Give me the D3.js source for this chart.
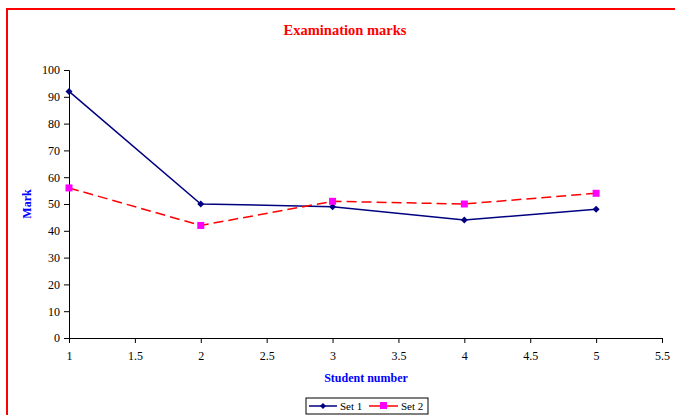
<!DOCTYPE html>
<html><head><meta charset="utf-8">
<script src="https://cdn.jsdelivr.net/npm/d3@7"></script>
<style>body{margin:0;background:#fff}svg{display:block}svg text{font-family:"Liberation Serif","Times New Roman",Times,serif}</style>
</head><body>
<script>
const students = [1, 2, 3, 4, 5];
const set1 = [92, 50, 49, 44, 48];
const set2 = [56, 42, 51, 50, 54];
const xTicks = [1, 1.5, 2, 2.5, 3, 3.5, 4, 4.5, 5, 5.5];
const yTicks = [0, 10, 20, 30, 40, 50, 60, 70, 80, 90, 100];

const W = 675, H = 415;
const svg = d3.select("body").append("svg").attr("width", W).attr("height", H);

svg.append("rect").attr("x", 7).attr("y", 9).attr("width", 720).attr("height", 430)
  .attr("fill", "none").attr("stroke", "#ff0000").attr("stroke-width", 2);

const x = d3.scaleLinear().domain([1, 5.5]).range([69, 662]);
const y = d3.scaleLinear().domain([0, 100]).range([338, 70]);

const xAxis = svg.append("g").attr("transform", "translate(0,338)")
  .call(d3.axisBottom(x).tickValues(xTicks).tickSize(5).tickPadding(8).tickFormat(d => String(d)));
const yAxis = svg.append("g").attr("transform", "translate(69,0)")
  .call(d3.axisLeft(y).tickValues(yTicks).tickSize(5).tickPadding(4).tickFormat(d => String(d)));
[xAxis, yAxis].forEach(g => {
  g.attr("font-family", null);
  g.select(".domain").attr("stroke", "#000").attr("stroke-width", 1);
  g.selectAll(".tick line").attr("stroke", "#000");
  g.selectAll(".tick text").attr("font-size", 12).attr("fill", "#000");
});

svg.append("text").attr("x", 345).attr("y", 35).attr("text-anchor", "middle")
  .attr("font-weight", "bold").attr("font-size", 14.5)
  .attr("fill", "#ff0000").text("Examination marks");
svg.append("text").attr("x", 366).attr("y", 382).attr("text-anchor", "middle")
  .attr("font-weight", "bold").attr("font-size", 12)
  .attr("fill", "#0000ff").text("Student number");
svg.append("text").attr("transform", "translate(31,204) rotate(-90)").attr("text-anchor", "middle")
  .attr("font-weight", "bold").attr("font-size", 12)
  .attr("fill", "#0000ff").text("Mark");

const line = d3.line().x(d => x(d[0])).y(d => y(d[1]));
const d1 = students.map((s, i) => [s, set1[i]]);
const d2 = students.map((s, i) => [s, set2[i]]);

svg.append("path").datum(d1).attr("d", line).attr("fill", "none")
  .attr("stroke", "#000080").attr("stroke-width", 1.5);
svg.append("path").datum(d2).attr("d", line).attr("fill", "none")
  .attr("stroke", "#ff0000").attr("stroke-width", 1.5).attr("stroke-dasharray", "10,5");

const diamond = (cx, cy, r) => `M${cx},${cy - r}L${cx + r},${cy}L${cx},${cy + r}L${cx - r},${cy}Z`;
svg.selectAll(".m1").data(d1).enter().append("path")
  .attr("d", d => diamond(x(d[0]), y(d[1]), 3.5)).attr("fill", "#000080");
svg.selectAll(".m2").data(d2).enter().append("rect")
  .attr("x", d => x(d[0]) - 3.5).attr("y", d => y(d[1]) - 3.5)
  .attr("width", 7).attr("height", 7).attr("fill", "#ff00ff");

// Legend
const lg = svg.append("g");
lg.append("rect").attr("x", 306).attr("y", 398).attr("width", 122).attr("height", 16)
  .attr("fill", "#fff").attr("stroke", "#000").attr("stroke-width", 1);
lg.append("line").attr("x1", 309).attr("x2", 337).attr("y1", 406).attr("y2", 406)
  .attr("stroke", "#000080").attr("stroke-width", 1.5);
lg.append("path").attr("d", diamond(323, 406, 3)).attr("fill", "#000080");
lg.append("text").attr("x", 340).attr("y", 410).attr("font-size", 11).text("Set 1");
lg.append("line").attr("x1", 369).attr("x2", 398).attr("y1", 406).attr("y2", 406)
  .attr("stroke", "#ff0000").attr("stroke-width", 1.5);
lg.append("rect").attr("x", 380).attr("y", 402).attr("width", 7).attr("height", 7).attr("fill", "#ff00ff");
lg.append("text").attr("x", 401).attr("y", 410).attr("font-size", 11).text("Set 2");
</script>
</body></html>
